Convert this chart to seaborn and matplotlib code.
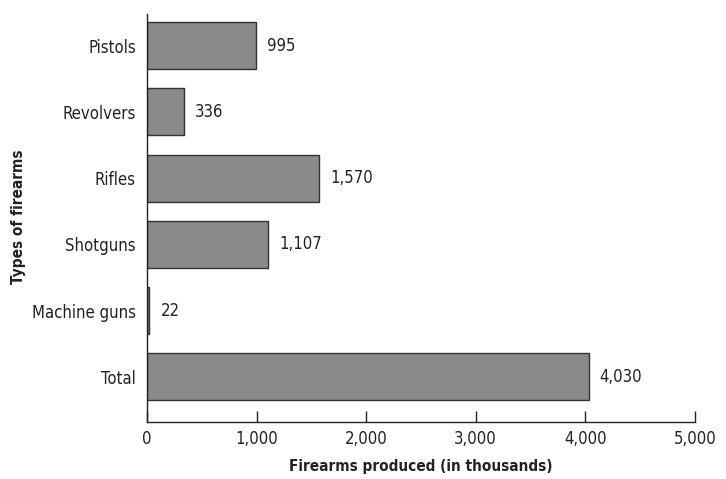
import matplotlib
matplotlib.use("Agg")
import matplotlib.pyplot as plt
from matplotlib import font_manager
from matplotlib.ticker import FuncFormatter
import seaborn as sns
import pandas as pd

categories = ["Pistols", "Revolvers", "Rifles", "Shotguns", "Machine guns", "Total"]
produced = [995, 336, 1570, 1107, 22, 4030]
x_ticks = [0, 1000, 2000, 3000, 4000, 5000]

df = pd.DataFrame({"type": categories, "produced": produced})

sns.set_theme(style="white")
available = {f.name for f in font_manager.fontManager.ttflist}
if "Liberation Sans Narrow" in available:
    plt.rcParams["font.family"] = ["Liberation Sans Narrow", "DejaVu Sans"]
else:
    plt.rcParams["font.family"] = ["DejaVu Sans"]
    plt.rcParams["font.stretch"] = "condensed"

INK = "#222222"

fig = plt.figure(figsize=(7.26, 4.79), dpi=100)
ax = fig.add_axes([0.2025, 0.119, 0.7545, 0.852])

sns.barplot(data=df, x="produced", y="type", order=categories, ax=ax,
            color="#8a8a8d", saturation=1, width=0.71,
            edgecolor="#333333", linewidth=1.0)

for i, v in enumerate(produced):
    ax.text(v + 100, i, f"{v:,}", va="center", ha="left", fontsize=12, color=INK)

ax.set_xlim(0, 5000)
ax.set_ylim(5.68, -0.48)
ax.set_xticks(x_ticks)
ax.xaxis.set_major_formatter(FuncFormatter(lambda v, p: f"{int(v):,}"))
ax.tick_params(axis="x", bottom=True, direction="in", length=8, width=1, color=INK,
               labelsize=12, labelcolor=INK, pad=6)
ax.tick_params(axis="y", left=False, length=0, labelsize=12, labelcolor=INK, pad=8)

for s in ["top", "right"]:
    ax.spines[s].set_visible(False)
for s in ["left", "bottom"]:
    ax.spines[s].set_color(INK)
    ax.spines[s].set_linewidth(1.0)

ax.set_xlabel("Firearms produced (in thousands)", fontsize=11, fontweight="bold",
              color=INK, labelpad=8)
ax.set_ylabel("")
fig.text(0.025, 0.547, "Types of firearms", rotation=90, ha="center", va="center",
         fontsize=11, fontweight="bold", color=INK)

fig.savefig("out.png", dpi=100, facecolor="white")
